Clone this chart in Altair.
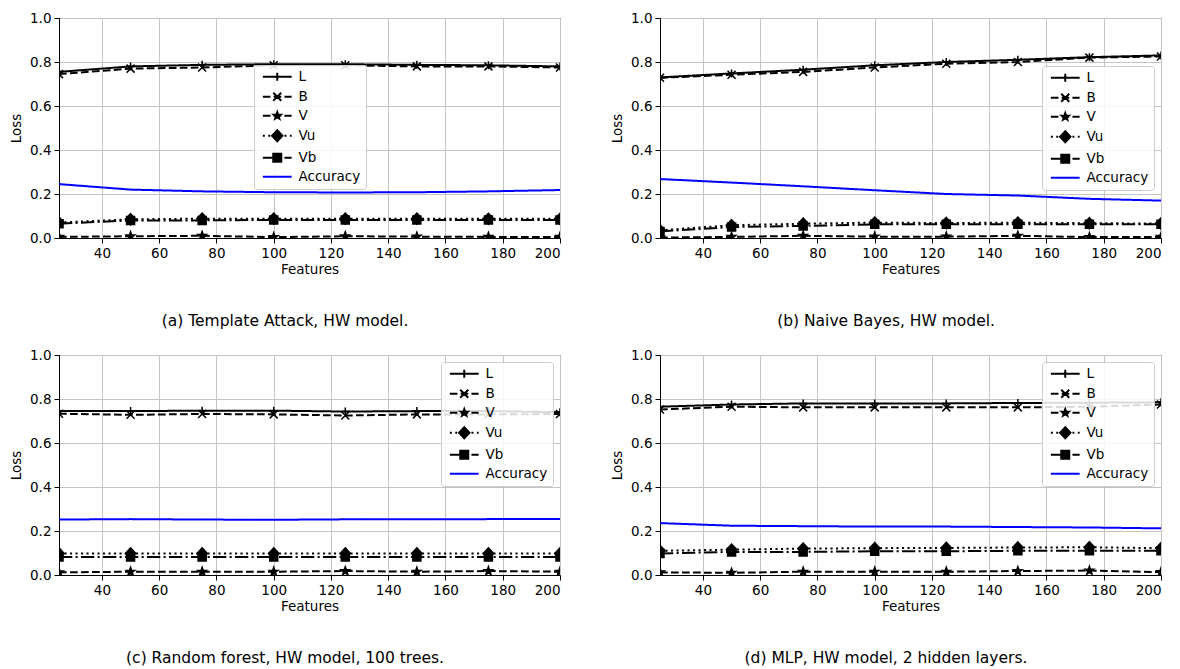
import altair as alt
import pandas as pd

features = [25, 50, 75, 100, 125, 150, 175, 200]
series_names = ["L", "B", "V", "Vu", "Vb", "Accuracy"]

# (a) Template Attack
a_L = [0.755, 0.780, 0.787, 0.790, 0.790, 0.787, 0.785, 0.780]
a_B = [0.745, 0.770, 0.775, 0.785, 0.785, 0.780, 0.780, 0.775]
a_V = [0.005, 0.008, 0.010, 0.004, 0.008, 0.006, 0.005, 0.005]
a_Vu = [0.070, 0.085, 0.088, 0.088, 0.088, 0.088, 0.087, 0.087]
a_Vb = [0.065, 0.080, 0.080, 0.082, 0.082, 0.082, 0.082, 0.082]
a_Acc = [0.245, 0.220, 0.212, 0.208, 0.207, 0.208, 0.212, 0.218]

# (b) Naive Bayes
b_L = [0.730, 0.748, 0.765, 0.785, 0.800, 0.810, 0.822, 0.830]
b_B = [0.728, 0.742, 0.755, 0.775, 0.792, 0.800, 0.820, 0.825]
b_V = [0.002, 0.005, 0.010, 0.006, 0.006, 0.010, 0.004, 0.005]
b_Vu = [0.035, 0.058, 0.065, 0.070, 0.068, 0.070, 0.067, 0.066]
b_Vb = [0.030, 0.050, 0.055, 0.062, 0.063, 0.063, 0.062, 0.062]
b_Acc = [0.268, 0.252, 0.235, 0.217, 0.200, 0.193, 0.178, 0.170]

# (c) Random forest
c_L = [0.745, 0.745, 0.747, 0.747, 0.743, 0.745, 0.745, 0.740]
c_B = [0.733, 0.728, 0.732, 0.730, 0.725, 0.730, 0.730, 0.732]
c_V = [0.012, 0.015, 0.015, 0.015, 0.018, 0.015, 0.018, 0.015]
c_Vu = [0.098, 0.098, 0.098, 0.098, 0.098, 0.098, 0.098, 0.098]
c_Vb = [0.082, 0.082, 0.082, 0.082, 0.082, 0.082, 0.082, 0.082]
c_Acc = [0.252, 0.254, 0.252, 0.251, 0.253, 0.253, 0.254, 0.255]

# (d) MLP
d_L = [0.765, 0.775, 0.780, 0.780, 0.780, 0.782, 0.783, 0.785]
d_B = [0.752, 0.765, 0.762, 0.762, 0.762, 0.762, 0.765, 0.775]
d_V = [0.012, 0.010, 0.015, 0.015, 0.015, 0.018, 0.020, 0.013]
d_Vu = [0.110, 0.115, 0.120, 0.122, 0.123, 0.125, 0.126, 0.122]
d_Vb = [0.098, 0.105, 0.105, 0.108, 0.108, 0.110, 0.110, 0.110]
d_Acc = [0.236, 0.224, 0.222, 0.220, 0.220, 0.218, 0.216, 0.212]

captions = [
    "(a) Template Attack, HW model.",
    "(b) Naive Bayes, HW model.",
    "(c) Random forest, HW model, 100 trees.",
    "(d) MLP, HW model, 2 hidden layers.",
]

panels = [
    [a_L, a_B, a_V, a_Vu, a_Vb, a_Acc],
    [b_L, b_B, b_V, b_Vu, b_Vb, b_Acc],
    [c_L, c_B, c_V, c_Vu, c_Vb, c_Acc],
    [d_L, d_B, d_V, d_Vu, d_Vb, d_Acc],
]

FONT = "DejaVu Sans"

# styles
line_colors = ["black", "black", "black", "black", "black", "#0000ff"]
dashes = [[1, 0], [7.7, 3.3], [7.7, 3.3], [2.1, 3.4], [13.3, 3.3, 2.1, 3.3], [1, 0]]

STAR = ("M0,-1.1L0.26,-0.36L1.05,-0.34L0.43,0.14L0.65,0.89L0,0.45"
        "L-0.65,0.89L-0.43,0.14L-1.05,-0.34L-0.26,-0.36Z")
DIAMOND = "M0,-1.4L1.3,0L0,1.4L-1.3,0Z"
SQUARE = "M-1,-1L1,-1L1,1L-1,1Z"
PLUS = "M-1,0L1,0M0,-1L0,1"
XMARK = "M-1,-1L1,1M-1,1L1,-1"

marker_series = ["L", "B", "V", "Vu", "Vb"]
marker_paths = [PLUS, XMARK, STAR, DIAMOND, SQUARE]

SOLID = "M-3.6,0L3.6,0"
DASHED = "M-3.6,0L-1.7,0M-0.9,0L1,0M1.8,0L3.6,0"
DOTTED = "M-3.6,0L-3.1,0M-2.25,0L-1.75,0M-0.9,0L-0.4,0M0.45,0L0.95,0M1.8,0L2.3,0M3.15,0L3.6,0"
DASHDOT = "M-3.6,0L-0.3,0M0.5,0L1,0M1.8,0L3.6,0"
LEG_STAR = ("M0,-0.9L0.21,-0.29L0.86,-0.28L0.35,0.11L0.53,0.73L0,0.37"
            "L-0.53,0.73L-0.35,0.11L-0.86,-0.28L-0.21,-0.29Z")
legend_paths = [
    SOLID + PLUS,
    DASHED + XMARK,
    DASHED + LEG_STAR,
    DOTTED + DIAMOND,
    DASHDOT + SQUARE,
    SOLID,
]

rows = []
for p, vals in enumerate(panels):
    for s, ys in zip(series_names, vals):
        for f, v in zip(features, ys):
            rows.append({"panel": p, "features": f, "series": s, "lseries": s, "value": v})
df = pd.DataFrame(rows)

legend_pos = [
    dict(orient="none", legendX=195, legendY=47),
    dict(orient="none", legendX=382, legendY=48),
    dict(orient="top-right", offset=7),
    dict(orient="top-right", offset=7),
]

INDEP = dict(color="independent", shape="independent", fill="independent",
             stroke="independent", strokeDash="independent")

SYMBOL_COLOR = "datum.value === 'Accuracy' ? '#0000ff' : 'black'"


def make_panel(p):
    data = df[df["panel"] == p]
    base = alt.Chart(data)
    x = alt.X("features:Q",
              scale=alt.Scale(domain=[25, 200], nice=False, zero=False),
              axis=alt.Axis(values=list(range(40, 201, 20)), title="Features"))
    y = alt.Y("value:Q",
              scale=alt.Scale(domain=[0, 1], nice=False),
              axis=alt.Axis(values=[0, 0.2, 0.4, 0.6, 0.8, 1.0], format=".1f", title="Loss"))
    lines = base.mark_line(strokeWidth=2, clip=True).encode(
        x=x, y=y,
        color=alt.Color("series:N", scale=alt.Scale(domain=series_names, range=line_colors), legend=None),
        strokeDash=alt.StrokeDash("series:N", scale=alt.Scale(domain=series_names, range=dashes), legend=None),
        order=alt.Order("features:Q"),
    )
    markers = base.transform_filter("datum.series != 'Accuracy'").mark_point(
        filled=True, size=64, fill="black", stroke="black", strokeWidth=1.5, opacity=1, clip=True
    ).encode(
        x=x, y=y,
        shape=alt.Shape("series:N", scale=alt.Scale(domain=marker_series, range=marker_paths), legend=None),
    )
    leg = alt.Legend(
        title=None, symbolOffset=11.5, labelOffset=14.5, labelFontSize=13.5, labelFont=FONT,
        labelColor="black", fillColor="rgba(255,255,255,0.85)", strokeColor="#cccccc",
        cornerRadius=3, padding=5, rowPadding=3, symbolSize=64, symbolStrokeWidth=2,
        symbolOpacity=1,
        symbolStrokeColor=alt.ExprRef(expr=SYMBOL_COLOR),
        symbolFillColor=alt.ExprRef(expr=SYMBOL_COLOR),
        **legend_pos[p],
    )
    legend_layer = base.transform_filter("datum.features < 0").mark_point(
        filled=False, size=64, strokeWidth=2, opacity=1
    ).encode(
        x=x, y=y,
        shape=alt.Shape("lseries:N", scale=alt.Scale(domain=series_names, range=legend_paths), legend=leg),
        fill=alt.Fill("lseries:N", scale=alt.Scale(domain=series_names, range=line_colors), legend=leg),
        stroke=alt.Stroke("lseries:N", scale=alt.Scale(domain=series_names, range=line_colors), legend=leg),
    )
    return alt.layer(lines, markers, legend_layer).resolve_scale(shape="independent").properties(
        width=501, height=220,
        title=alt.TitleParams(captions[p], orient="bottom", anchor="middle", frame="bounds",
                              offset=38, fontSize=15.5, font=FONT,
                              fontWeight="normal", color="black"),
    )


row1 = alt.hconcat(make_panel(0), make_panel(1), spacing=49).resolve_scale(**INDEP).resolve_legend(**INDEP)
row2 = alt.hconcat(make_panel(2), make_panel(3), spacing=49).resolve_scale(**INDEP).resolve_legend(**INDEP)
chart = alt.vconcat(row1, row2, spacing=17).resolve_scale(**INDEP).resolve_legend(**INDEP).properties(
    padding={"left": 9, "top": 10, "right": 0, "bottom": 0}
).configure_view(
    stroke="black", strokeWidth=1
).configure_axis(
    labelFont=FONT, titleFont=FONT, labelFontSize=13.5, titleFontSize=13.5,
    labelColor="black", titleColor="black", titleFontWeight="normal",
    domainColor="black", tickColor="black", tickSize=5,
    gridColor="#c4c4c4", gridWidth=1, labelPadding=3,
).configure_axisY(titlePadding=6).configure_axisX(titlePadding=3)

chart.save("out.html", embed_options={"renderer": "svg", "actions": False})
